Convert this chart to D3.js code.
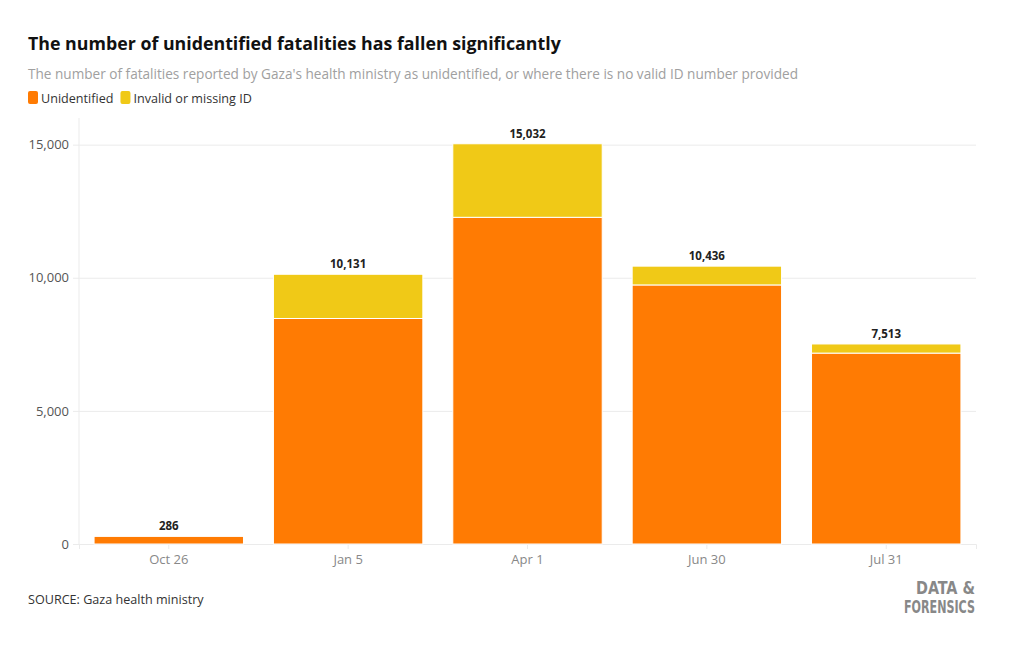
<!DOCTYPE html>
<html><head><meta charset="utf-8">
<script src="https://cdn.jsdelivr.net/npm/d3@7"></script>
<style>
body{margin:0;background:#fff;}
svg{display:block;font-family:"Open Sans",sans-serif;}
</style></head>
<body><svg id="c" width="1020" height="650"></svg>
<script>
const categories = ["Oct 26","Jan 5","Apr 1","Jun 30","Jul 31"];
const unidentified = [286, 8470, 12270, 9730, 7170];
const invalidMissing = [0, 1661, 2762, 706, 343];
const totals = [286, 10131, 15032, 10436, 7513];
const yTicks = [0, 5000, 10000, 15000];
const seriesNames = ["Unidentified","Invalid or missing ID"];
const colors = ["#FF7B03","#F0C917"];

const svg = d3.select("#c");
const m = {l:79, r:976, t:118, b:544};

const x = d3.scaleBand().domain(categories).range([m.l, m.r]).paddingInner(0.167).paddingOuter(0.084);
const y = d3.scaleLinear().domain([0,16000]).range([m.b, m.t]);

// titles
svg.append("text").attr("x",28).attr("y",50).attr("font-size",17.8).attr("font-weight",700).attr("fill","#111")
  .text("The number of unidentified fatalities has fallen significantly");
svg.append("text").attr("x",28).attr("y",79).attr("font-size",13.6).attr("fill","#a0a0a0")
  .text("The number of fatalities reported by Gaza's health ministry as unidentified, or where there is no valid ID number provided");

// legend
const leg = svg.append("g");
let lx = 28;
seriesNames.forEach((n,i)=>{
  leg.append("rect").attr("x",lx).attr("y",91).attr("width",10).attr("height",13).attr("rx",2).attr("fill",colors[i]);
  const t = leg.append("text").attr("x",lx+13).attr("y",102.5).attr("font-size",12.6).attr("fill","#333").text(n);
  lx += 13 + t.node().getComputedTextLength() + 7;
});

// gridlines / y axis
const yAxis = d3.axisLeft(y).tickValues(yTicks).tickSize(-(m.r - m.l)).tickPadding(10).tickFormat(d3.format(","));
const ga = svg.append("g").attr("transform",`translate(${m.l},0)`).call(yAxis);
ga.select(".domain").remove();
ga.selectAll(".tick line").attr("stroke","#ebebeb").attr("x1",-6);
ga.selectAll(".tick text").attr("font-size",13).attr("fill","#555").attr("font-family","Open Sans, sans-serif");
svg.append("line").attr("x1",m.l).attr("x2",m.l).attr("y1",m.t).attr("y2",m.b).attr("stroke","#ebebeb");

// x axis
const xAxis = d3.axisBottom(x).tickSize(5).tickPadding(6);
const gx = svg.append("g").attr("transform",`translate(0,${m.b})`).call(xAxis);
gx.select(".domain").attr("stroke","#ebebeb");
gx.selectAll(".tick line").attr("stroke","#ebebeb");
gx.selectAll(".tick text").attr("font-size",13).attr("fill","#888").attr("font-family","Open Sans, sans-serif");

// bars
const data = categories.map((c,i)=>({cat:c, Unidentified:unidentified[i], "Invalid or missing ID":invalidMissing[i]}));
const stack = d3.stack().keys(seriesNames)(data);
svg.append("g").selectAll("g").data(stack).join("g").attr("fill",(d,i)=>colors[i])
  .selectAll("rect").data(d=>d.filter(p=>p[1]-p[0]>0)).join("rect")
  .attr("x",d=>x(d.data.cat)).attr("width",x.bandwidth())
  .attr("y",d=>y(d[1])).attr("height",d=>y(d[0])-y(d[1]))
  .attr("stroke","#fff").attr("stroke-width",1);

// totals labels
svg.append("g").selectAll("text").data(categories).join("text")
  .attr("x",d=>x(d)+x.bandwidth()/2).attr("y",(d,i)=>y(totals[i])-6)
  .attr("text-anchor","middle").attr("font-size",11.5).attr("font-weight",700).attr("fill","#222")
  .text((d,i)=>d3.format(",")(totals[i]));

// footer
svg.append("text").attr("x",28).attr("y",604).attr("font-size",12.6).attr("fill","#333").text("SOURCE: Gaza health ministry");
const lg = svg.append("g").attr("font-family","'Liberation Sans Narrow','DejaVu Sans Condensed',sans-serif").attr("font-weight",700).attr("fill","#888").attr("font-size",18).attr("text-anchor","end");
lg.append("text").attr("x",975).attr("y",594).attr("textLength",59).attr("lengthAdjust","spacingAndGlyphs").text("DATA &");
lg.append("text").attr("x",975).attr("y",613).attr("textLength",71).attr("lengthAdjust","spacingAndGlyphs").text("FORENSICS");
</script></body></html>
